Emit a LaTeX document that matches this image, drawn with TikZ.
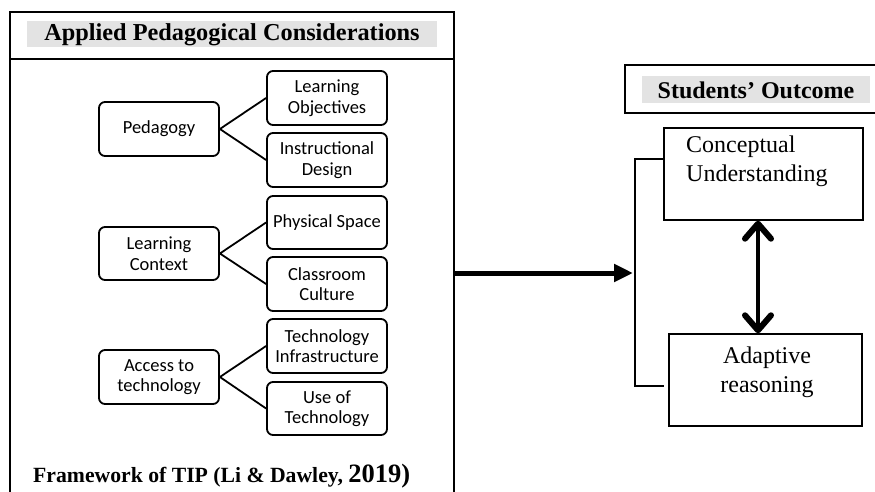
\documentclass[tikz,border=0pt]{standalone}
\usepackage{fontspec}
\setmainfont{Liberation Serif}
\newfontfamily\carlfont{Carlito}
\usetikzlibrary{arrows.meta}
\tikzset{
  frame/.style={draw, line width=1.5pt},
  band/.style={fill=black!11, draw=none},
  inbox/.style={draw, line width=1.8pt, rounded corners=6pt, minimum width=120pt,
    minimum height=54pt, align=center, inner sep=0pt,
    font=\carlfont\fontsize{18.5}{20.5}\selectfont},
  link/.style={line width=1.8pt},
  outbox/.style={draw, line width=1.4pt, inner sep=0pt},
  outtext/.style={align=left, inner sep=0pt, font=\fontsize{24}{29}\selectfont},
  head/.style={inner sep=0pt, font=\bfseries\fontsize{24.3}{28}\selectfont},
  mybarb/.tip={Straight Barb[length=15pt,width=26pt,line width=6pt,round]},
}
\begin{document}
\begin{tikzpicture}[x=1pt,y=-1pt]
\useasboundingbox (0,0) rectangle (875,492);
% left frame
\draw[frame] (10,500) -- (10,12) -- (454,12) -- (454,500);
\draw[frame] (10,59) -- (454,59);
\fill[band] (27,21) rectangle (437,47);
\node[head] (title) at (232,35) {Applied Pedagogical Considerations};
% inner boxes
\node[inbox] (ped) at (159,129) {Pedagogy};
\node[inbox, minimum height=53pt] (lc) at (159,253.5) {Learning\\Context};
\node[inbox] (acc) at (159,377) {Access to\\technology};
\node[inbox] (lo) at (327,98) {Learning\\Objectives};
\node[inbox] (id) at (327,160) {Instructional\\Design};
\node[inbox, minimum height=53pt] (ps) at (327,222.5) {Physical Space};
\node[inbox] (cc) at (327,284) {Classroom\\Culture};
\node[inbox] (ti) at (327,346) {Technology\\Infrastructure};
\node[inbox, minimum height=53pt] (ut) at (327,408.5) {Use of\\Technology};
\draw[link] (lo.west) -- (ped.east) -- (id.west);
\draw[link] (ps.west) -- (lc.east) -- (cc.west);
\draw[link] (ti.west) -- (acc.east) -- (ut.west);
\node[anchor=base west, inner sep=0pt, font=\bfseries\fontsize{21.7}{24}\selectfont] (fw) at (33,482)
  {Framework of TIP (Li \& Dawley, {\fontsize{26.5}{28}\selectfont 2019)}};
% right side
\draw[frame, line width=1.4pt] (880,65) -- (625,65) -- (625,113) -- (880,113);
\fill[band] (642,76) rectangle (870,103);
\node[inner sep=0pt, font=\bfseries\fontsize{24}{28}\selectfont] (so) at (756,90) {Students’ Outcome};
\node[outbox, minimum width=199pt, minimum height=92pt] (cu) at (763.5,174) {};
\node[outtext, anchor=north west] (cut) at (686,136) {Conceptual\\Understanding};
\node[outbox, minimum width=193pt, minimum height=92pt] (ar) at (765.5,380) {};
\node[outtext, align=center] (art) at (767,372) {Adaptive\\reasoning};
\coordinate (ax) at (758,0);
\draw[line width=4.8pt, {mybarb}-{mybarb}]
  (cu.south -| ax) -- (ar.north -| ax);
% bracket
\coordinate (bt) at (664,159);
\coordinate (bb) at (664,386);
\coordinate (bx) at (635,0);
\draw[line width=1.4pt] (bt) -- (bt -| bx) -- (bb -| bx) -- (bb);
\coordinate (ma) at (454,273);
\draw[line width=5pt, -{Triangle[length=19pt,width=17pt]}] (ma) -- ([xshift=-2pt]ma -| bx);
\end{tikzpicture}
\end{document}
